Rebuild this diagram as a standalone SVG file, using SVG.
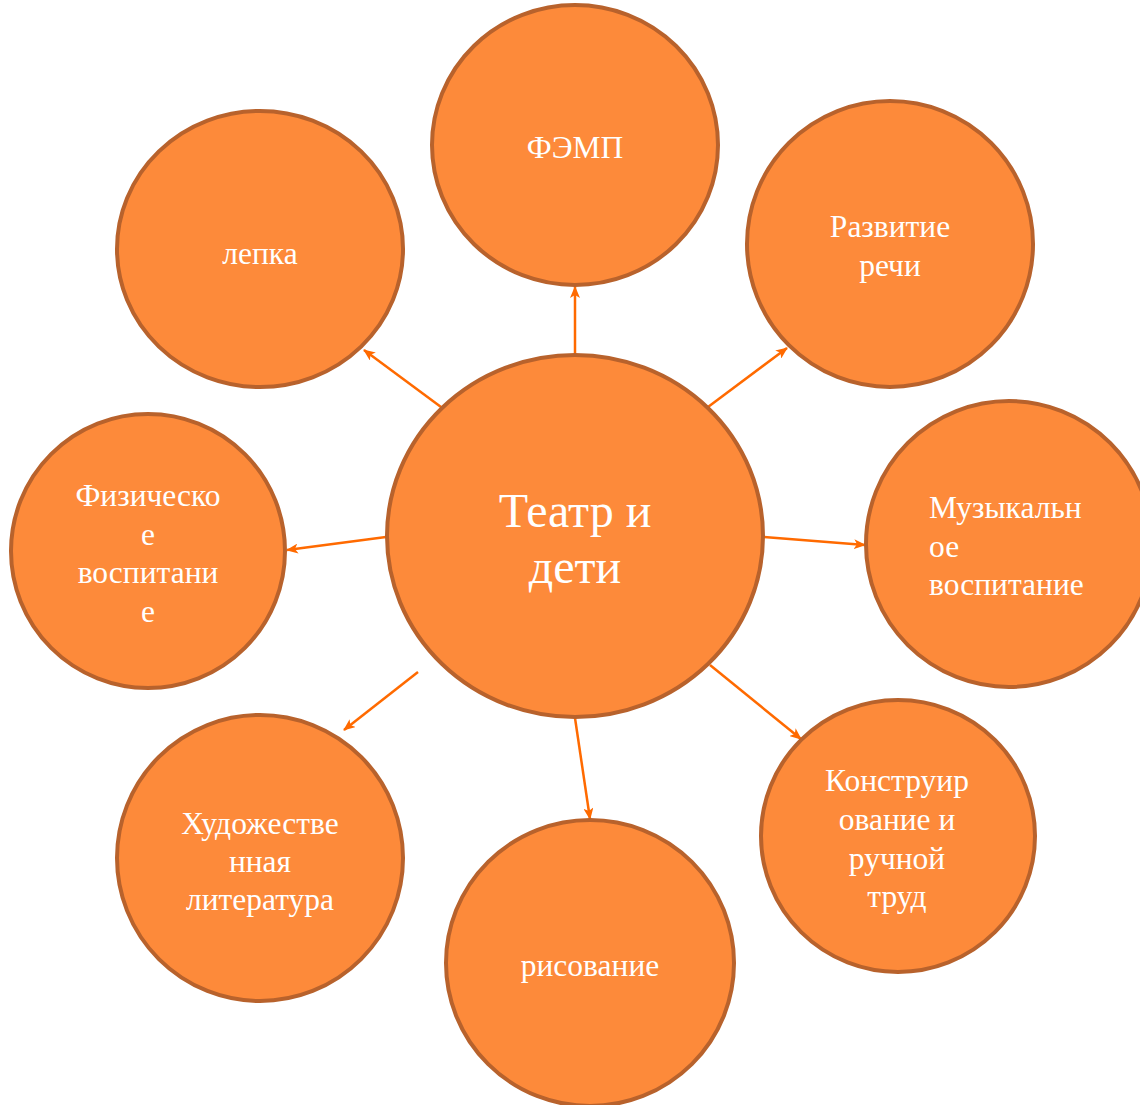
<svg xmlns="http://www.w3.org/2000/svg" width="1140" height="1105" viewBox="0 0 1140 1105">
<defs>
<style>
.n{fill:#FD8A3A;stroke:#B8622C;stroke-width:4}
.t{fill:#fff;font-family:"Liberation Serif","Times New Roman",serif;font-size:31.5px;text-anchor:middle}
.c{stroke:#FF6A00;stroke-width:2.5;fill:none;marker-end:url(#ah)}
</style>
<marker id="ah" viewBox="0 0 12 10" refX="11" refY="5" markerWidth="12" markerHeight="10" markerUnits="userSpaceOnUse" orient="auto">
<path d="M0,0 L12,5 L0,10 L3,5 Z" fill="#FF6A00"/>
</marker>
</defs>
<rect width="1140" height="1105" fill="#fff"/>
<g id="connectors">
<line class="c" x1="575" y1="355" x2="575" y2="287"/>
<line class="c" x1="441" y1="407" x2="364" y2="350"/>
<line class="c" x1="708" y1="407" x2="787" y2="348"/>
<line class="c" x1="386" y1="537" x2="287" y2="550"/>
<line class="c" x1="764" y1="537" x2="865" y2="545"/>
<line class="c" x1="418" y1="672" x2="344" y2="730"/>
<line class="c" x1="575" y1="718" x2="590" y2="819"/>
<line class="c" x1="710" y1="665" x2="801" y2="739"/>
</g>
<g id="center">
<ellipse class="n" cx="575" cy="536" rx="188" ry="181"/>
<text class="t" style="font-size:48px" x="575" y="527">Театр и</text>
<text class="t" style="font-size:48px" x="575" y="583">дети</text>
</g>
<g id="femp">
<ellipse class="n" cx="575" cy="145" rx="143" ry="140"/>
<text class="t" x="575" y="158">ФЭМП</text>
</g>
<g id="lepka">
<ellipse class="n" cx="260" cy="249" rx="143" ry="138"/>
<text class="t" x="260" y="264">лепка</text>
</g>
<g id="rech">
<ellipse class="n" cx="890" cy="244" rx="143" ry="143"/>
<text class="t" x="890" y="237">Развитие</text>
<text class="t" x="890" y="276">речи</text>
</g>
<g id="fiz">
<ellipse class="n" cx="148" cy="551" rx="137" ry="137"/>
<text class="t" x="148" y="506">Физическо</text>
<text class="t" x="148" y="545">е</text>
<text class="t" x="148" y="583">воспитани</text>
<text class="t" x="148" y="622">е</text>
</g>
<g id="muz">
<ellipse class="n" cx="1009" cy="544" rx="143" ry="143"/>
<text class="t" style="text-anchor:start" x="929" y="518">Музыкальн</text>
<text class="t" style="text-anchor:start" x="929" y="557">ое</text>
<text class="t" style="text-anchor:start" x="929" y="595">воспитание</text>
</g>
<g id="hud">
<ellipse class="n" cx="260" cy="858" rx="143" ry="143"/>
<text class="t" x="260" y="834">Художестве</text>
<text class="t" x="260" y="872">нная</text>
<text class="t" x="260" y="910">литература</text>
</g>
<g id="ris">
<ellipse class="n" cx="590" cy="963" rx="144" ry="143"/>
<text class="t" x="590" y="976">рисование</text>
</g>
<g id="konstr">
<ellipse class="n" cx="898" cy="836" rx="137" ry="136"/>
<text class="t" x="897" y="791">Конструир</text>
<text class="t" x="897" y="830">ование и</text>
<text class="t" x="897" y="869">ручной</text>
<text class="t" x="897" y="907">труд</text>
</g>
</svg>
